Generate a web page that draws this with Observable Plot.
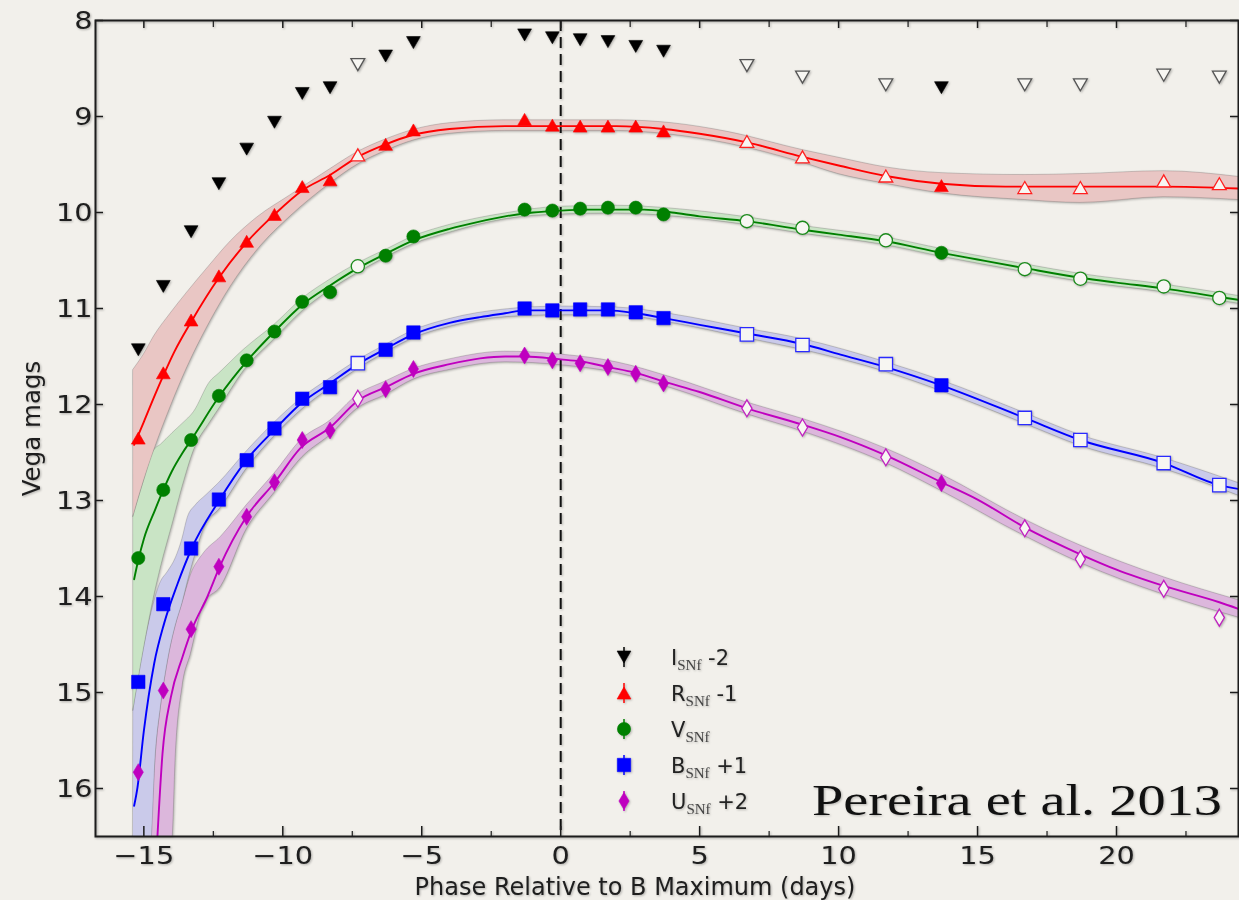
<!DOCTYPE html>
<html>
<head>
<meta charset="utf-8">
<script src="https://cdn.jsdelivr.net/npm/d3@7"></script>
<script src="https://cdn.jsdelivr.net/npm/@observablehq/plot@0.6"></script>
<style>
html, body { margin: 0; padding: 0; background: #f2f0eb; }
#wrap { position: relative; width: 1239px; height: 900px; overflow: hidden; }
#overlay { position: absolute; left: 0; top: 0; pointer-events: none; }
</style>
</head>
<body>
<div id="wrap"></div>
<script>
// ---------------- DATA ----------------
const phase = [-15.2, -14.3, -13.3, -12.3, -11.3, -10.3, -9.3, -8.3, -7.3, -6.3, -5.3, -1.3, -0.3, 0.7, 1.7, 2.7, 3.7, 6.7, 8.7, 11.7, 13.7, 16.7, 18.7, 21.7, 23.7];
const openFlag = [0, 0, 0, 0, 0, 0, 0, 0, 1, 0, 0, 0, 0, 0, 0, 0, 0, 1, 1, 1, 0, 1, 1, 1, 1];

const magI = [11.43, 10.77, 10.20, 9.70, 9.34, 9.06, 8.76, 8.70, 8.46, 8.37, 8.23, 8.15, 8.18, 8.20, 8.22, 8.27, 8.32, 8.47, 8.59, 8.67, 8.70, 8.67, 8.67, 8.57, 8.59];
const magR = [12.35, 11.67, 11.12, 10.66, 10.30, 10.02, 9.73, 9.66, 9.40, 9.29, 9.14, 9.03, 9.09, 9.10, 9.10, 9.10, 9.15, 9.26, 9.42, 9.62, 9.72, 9.74, 9.74, 9.67, 9.70];
const magV = [13.60, 12.89, 12.37, 11.91, 11.54, 11.24, 10.93, 10.83, 10.56, 10.45, 10.25, 9.97, 9.98, 9.96, 9.95, 9.95, 10.02, 10.09, 10.16, 10.29, 10.42, 10.59, 10.69, 10.77, 10.89];
const magB = [14.89, 14.08, 13.50, 12.99, 12.58, 12.25, 11.94, 11.82, 11.57, 11.43, 11.25, 11.00, 11.02, 11.01, 11.01, 11.04, 11.10, 11.27, 11.38, 11.58, 11.80, 12.14, 12.37, 12.61, 12.84];
const magU = [15.83, 14.98, 14.34, 13.69, 13.17, 12.81, 12.37, 12.27, 11.94, 11.84, 11.63, 11.49, 11.54, 11.57, 11.61, 11.68, 11.78, 12.04, 12.24, 12.55, 12.82, 13.29, 13.61, 13.92, 14.22];

// fitted light curves
const fitRX = [-15.35, -15.0, -14.6, -14.3, -13.9, -13.3, -12.3, -11.3, -10.3, -9.3, -8.3, -7.3, -6.3, -5.3, -4, -2, 0, 2, 3.7, 5, 6.7, 8.7, 10, 11.7, 13.7, 16, 18.7, 21.7, 24.4];
const fitRY = [12.42, 12.18, 11.90, 11.70, 11.45, 11.14, 10.68, 10.31, 10.02, 9.77, 9.61, 9.42, 9.29, 9.19, 9.13, 9.10, 9.10, 9.10, 9.13, 9.18, 9.27, 9.42, 9.51, 9.62, 9.70, 9.73, 9.73, 9.73, 9.75];

const fitVX = [-15.35, -15.2, -15.0, -14.6, -14.3, -14.0, -13.6, -13.3, -12.3, -11.3, -10.3, -9.3, -8.3, -7.3, -6.3, -5.3, -4, -3, -2, -1, 0, 1, 2, 3, 4, 5, 6.7, 8.7, 10, 11.7, 13.7, 15, 16.7, 18.7, 20, 21.7, 23.7, 24.4];
const fitVY = [13.82, 13.62, 13.40, 13.10, 12.89, 12.70, 12.50, 12.37, 11.92, 11.55, 11.24, 10.96, 10.76, 10.58, 10.43, 10.29, 10.17, 10.10, 10.04, 10.00, 9.98, 9.97, 9.97, 9.97, 10.00, 10.04, 10.09, 10.18, 10.23, 10.30, 10.42, 10.49, 10.58, 10.68, 10.73, 10.79, 10.88, 10.91];

const fitBX = [-15.35, -15.23, -15.0, -14.63, -14.27, -13.79, -13.28, -12.29, -11.31, -10.29, -9.35, -8.3, -7.3, -6.3, -5.3, -4, -2.9, -2, -1.3, 0, 1, 1.7, 2.7, 3.7, 5, 6.7, 8.7, 10.07, 11.7, 13.7, 16.7, 18.7, 21.7, 23.7, 24.4];
const fitBY = [16.18, 15.99, 15.40, 14.70, 14.28, 13.87, 13.50, 13.00, 12.58, 12.26, 11.99, 11.78, 11.58, 11.42, 11.27, 11.15, 11.09, 11.05, 11.02, 11.02, 11.02, 11.02, 11.05, 11.10, 11.17, 11.26, 11.37, 11.48, 11.61, 11.80, 12.14, 12.37, 12.61, 12.84, 12.88];

const fitUX = [-14.53, -14.33, -14.03, -13.61, -13.28, -12.71, -12.27, -11.31, -10.29, -9.35, -8.3, -7.3, -6.3, -5.3, -4, -2.9, -2, -1.3, 0, 0.7, 1.7, 2.7, 3.7, 5, 6.7, 8.7, 10.07, 11.7, 13.7, 15, 16.7, 18.7, 20, 21.7, 23.7, 24.4];
const fitUY = [16.60, 15.64, 15.05, 14.63, 14.35, 14.00, 13.69, 13.17, 12.81, 12.45, 12.24, 11.96, 11.82, 11.68, 11.58, 11.52, 11.50, 11.50, 11.53, 11.55, 11.61, 11.67, 11.76, 11.87, 12.04, 12.21, 12.34, 12.53, 12.81, 12.99, 13.28, 13.56, 13.72, 13.89, 14.06, 14.13];

// uncertainty bands (upper / lower edge)
const bandRX  = [-15.38, -15.0, -14.63, -14.03, -13.43, -12.71, -11.87, -10.91, -9.72, -8.3, -7.3, -6.3, -5.3, -4, -2, 0, 2, 4, 6, 8.7, 10, 11.7, 13.7, 16.7, 18.7, 21.7, 24.4];
const bandRLo = [11.64, 11.48, 11.29, 11.05, 10.83, 10.58, 10.30, 10.05, 9.82, 9.55, 9.37, 9.24, 9.14, 9.07, 9.04, 9.04, 9.04, 9.07, 9.16, 9.35, 9.43, 9.53, 9.59, 9.61, 9.60, 9.57, 9.63];
const bandRHi = [13.17, 12.80, 12.48, 12.02, 11.61, 11.19, 10.77, 10.39, 10.04, 9.70, 9.50, 9.36, 9.25, 9.18, 9.15, 9.15, 9.15, 9.19, 9.28, 9.48, 9.60, 9.70, 9.80, 9.87, 9.90, 9.84, 9.87];

const bandVX  = [-15.38, -15.0, -14.63, -14.39, -13.97, -13.6, -13.2, -12.6, -12.3, -11.4, -10.3, -9.3, -8.3, -7.3, -6.3, -5.3, -4, -2, 0, 2, 4, 6.7, 8.7, 11.7, 13.7, 16.7, 18.7, 21.7, 24.4];
const bandVLo = [13.17, 12.80, 12.48, 12.42, 12.30, 12.20, 12.08, 11.76, 11.68, 11.43, 11.17, 10.90, 10.70, 10.53, 10.39, 10.25, 10.13, 10.01, 9.94, 9.93, 9.96, 10.05, 10.14, 10.26, 10.38, 10.54, 10.64, 10.75, 10.87];
const bandVHi = [15.19, 14.55, 14.00, 13.70, 13.25, 12.85, 12.48, 12.18, 12.05, 11.65, 11.32, 11.03, 10.81, 10.63, 10.47, 10.33, 10.21, 10.07, 10.02, 10.01, 10.04, 10.13, 10.22, 10.34, 10.46, 10.62, 10.72, 10.83, 10.95];

const bandBX  = [-15.38, -15.1, -14.75, -14.57, -14.39, -14.15, -13.85, -13.61, -13.42, -13.13, -12.77, -12.3, -11.3, -10.3, -9.3, -8.3, -7.3, -6.3, -5.3, -4, -2, 0, 2, 4, 6.7, 8.7, 11.7, 13.7, 16.7, 18.7, 21.7, 24.4];
const bandBLo = [15.19, 14.70, 14.20, 14.00, 13.85, 13.75, 13.60, 13.40, 13.18, 13.05, 12.95, 12.82, 12.49, 12.19, 11.93, 11.73, 11.54, 11.38, 11.23, 11.11, 11.01, 10.98, 10.99, 11.06, 11.21, 11.32, 11.56, 11.75, 12.09, 12.32, 12.56, 12.82];
const bandBHi = [16.60, 16.60, 16.60, 15.64, 15.16, 14.70, 14.30, 14.07, 13.85, 13.55, 13.25, 13.10, 12.67, 12.33, 12.05, 11.83, 11.63, 11.46, 11.31, 11.19, 11.09, 11.07, 11.07, 11.15, 11.31, 11.43, 11.66, 11.86, 12.20, 12.43, 12.67, 12.95];

const bandUX  = [-14.75, -14.57, -14.39, -14.15, -13.98, -13.85, -13.61, -13.31, -12.84, -12.23, -11.3, -10.3, -9.3, -8.3, -7.3, -6.3, -5.3, -4, -2, 0, 2, 4, 6.7, 8.7, 11.7, 13.7, 16.7, 18.7, 21.7, 24.4];
const bandULo = [16.60, 15.64, 15.16, 14.70, 14.45, 14.30, 14.07, 13.78, 13.55, 13.38, 13.05, 12.72, 12.36, 12.17, 11.90, 11.76, 11.63, 11.53, 11.45, 11.48, 11.56, 11.72, 11.98, 12.15, 12.46, 12.73, 13.20, 13.47, 13.80, 14.04];
const bandUHi = [16.60, 16.60, 16.60, 16.60, 16.55, 15.64, 14.94, 14.60, 14.08, 13.90, 13.30, 12.92, 12.55, 12.32, 12.04, 11.90, 11.74, 11.64, 11.56, 11.59, 11.67, 11.83, 12.10, 12.28, 12.61, 12.90, 13.37, 13.65, 13.98, 14.22];

const bMaxPhase = [0];
const xMajor = [-15, -10, -5, 0, 5, 10, 15, 20];
const xMinor = [-12.5, -7.5, -2.5, 2.5, 7.5, 12.5, 17.5, 22.5];
const yTicks = [8, 9, 10, 11, 12, 13, 14, 15, 16];
const xLabel = ["Phase Relative to B Maximum (days)"];
const yLabel = ["Vega mags"];
const legendBand = ["I", "R", "V", "B", "U"];
const legendSub = ["SNf", "SNf", "SNf", "SNf", "SNf"];
const legendOffset = [" -2", " -1", "", " +1", " +2"];
const citation = "Pereira et al. 2013";

// ---------------- STYLE / SYMBOLS ----------------
const OPEN_FILL = "#f7f6f2";
const rOf = (size) => Math.sqrt(size / Math.PI);
const triDown = { draw(c, size) { const r = rOf(size); c.moveTo(0, r); c.lineTo(-1.15 * r, -r); c.lineTo(1.15 * r, -r); c.closePath(); } };
const triUp = { draw(c, size) { const r = rOf(size); c.moveTo(0, -r); c.lineTo(-1.15 * r, r); c.lineTo(1.15 * r, r); c.closePath(); } };
const square = { draw(c, size) { const r = rOf(size); c.moveTo(-r, -r); c.lineTo(r, -r); c.lineTo(r, r); c.lineTo(-r, r); c.closePath(); } };
const thinDiamond = { draw(c, size) { const r = rOf(size); c.moveTo(0, -r); c.lineTo(0.6 * r, 0); c.lineTo(0, r); c.lineTo(-0.6 * r, 0); c.closePath(); } };
const circle = { draw(c, size) { const r = rOf(size); c.moveTo(r, 0); c.arc(0, 0, r, 0, 2 * Math.PI); c.closePath(); } };

const series = [
  { mags: magI, color: "#000000", openStroke: "#555555", symbol: triDown, r: 6.0 },
  { mags: magR, color: "#ff0000", openStroke: "#ff2020", symbol: triUp, r: 6.0 },
  { mags: magV, color: "#008000", openStroke: "#1a8a1a", symbol: circle, r: 6.6 },
  { mags: magB, color: "#0000ff", openStroke: "#2a2aff", symbol: square, r: 6.7 },
  { mags: magU, color: "#bf00bf", openStroke: "#c020c0", symbol: thinDiamond, r: 8.5 }
];
const fits = [
  { xs: fitUX, ys: fitUY, color: "#bf00bf" },
  { xs: fitBX, ys: fitBY, color: "#0000ff" },
  { xs: fitVX, ys: fitVY, color: "#008000" },
  { xs: fitRX, ys: fitRY, color: "#ff0000" }
];
const bands = [
  { xs: bandUX, lo: bandULo, hi: bandUHi, fill: "#dcb7dc" },
  { xs: bandBX, lo: bandBLo, hi: bandBHi, fill: "#cacaea" },
  { xs: bandVX, lo: bandVLo, hi: bandVHi, fill: "#c9e4c5" },
  { xs: bandRX, lo: bandRLo, hi: bandRHi, fill: "#e9c6c4" }
];

const W = 1239, H = 900, mL = 95, mR = 1, mT = 20, mB = 64;
const plotW = W - mL - mR, plotH = H - mT - mB;
const AX = "#1c1c1c";
const minusFmt = (d) => (d < 0 ? "\u2212" + (-d) : String(d));
const intFmt = (d) => String(d);

const marks = [];
for (const b of bands) {
  const rows = b.xs.map((x, i) => ({ phase: x, lo: b.lo[i], hi: b.hi[i] }));
  marks.push(Plot.areaY(rows, { x: "phase", y1: "lo", y2: "hi", fill: b.fill, stroke: "rgba(70,70,70,0.28)", strokeWidth: 0.8, curve: "monotone-x", clip: true }));
}
marks.push(Plot.ruleX(bMaxPhase, { x: (d) => d, stroke: "#111", strokeWidth: 2, strokeDasharray: "11,6" }));
for (const f of fits) {
  const rows = f.xs.map((x, i) => ({ phase: x, mag: f.ys[i] }));
  marks.push(Plot.line(rows, { x: "phase", y: "mag", stroke: f.color, strokeWidth: 1.9, curve: "monotone-x", clip: true }));
}
for (const s of series) {
  const rows = phase.map((p, i) => ({ phase: p, mag: s.mags[i], open: openFlag[i] === 1 }));
  marks.push(Plot.dot(rows.filter((d) => !d.open), { x: "phase", y: "mag", symbol: s.symbol, r: s.r, fill: s.color, stroke: s.color, strokeWidth: 0.6 }));
  marks.push(Plot.dot(rows.filter((d) => d.open), { x: "phase", y: "mag", symbol: s.symbol, r: s.r, fill: OPEN_FILL, stroke: s.openStroke, strokeWidth: 1.3 }));
}
// inward ticks
marks.push(Plot.tickY(yTicks, { y: (d) => d, insetRight: plotW - 8, stroke: AX, strokeWidth: 1.5 }));
marks.push(Plot.tickY(yTicks, { y: (d) => d, insetLeft: plotW - 8, stroke: AX, strokeWidth: 1.5 }));
marks.push(Plot.tickX(xMajor, { x: (d) => d, insetTop: plotH - 10, stroke: AX, strokeWidth: 1.5 }));
marks.push(Plot.tickX(xMajor, { x: (d) => d, insetBottom: plotH - 8, stroke: AX, strokeWidth: 1.5 }));
marks.push(Plot.tickX(xMinor, { x: (d) => d, insetTop: plotH - 5, stroke: AX, strokeWidth: 1.2 }));
marks.push(Plot.tickX(xMinor, { x: (d) => d, insetBottom: plotH - 7, stroke: AX, strokeWidth: 1.2 }));
marks.push(Plot.frame({ stroke: AX, strokeWidth: 2 }));
marks.push(Plot.axisX(xMajor, { tickSize: 0, tickPadding: 10, tickFormat: minusFmt, label: null, fontSize: 25, fill: "#1e1e1e" }));
marks.push(Plot.axisY(yTicks, { tickSize: 0, tickPadding: 3, tickFormat: intFmt, label: null, fontSize: 25, fill: "#1e1e1e" }));
marks.push(Plot.text(yLabel, { frameAnchor: "left", text: (d) => d, rotate: -90, dx: -63, textAnchor: "middle", lineAnchor: "middle", fontSize: 24.5, fill: "#1e1e1e", ariaLabel: "y-label" }));
marks.push(Plot.text(xLabel, { frameAnchor: "bottom", text: (d) => d, dx: -32, dy: 51, textAnchor: "middle", lineAnchor: "middle", fontSize: 24, fill: "#1e1e1e", ariaLabel: "x-label" }));

const chart = Plot.plot({
  width: W, height: H,
  marginLeft: mL, marginRight: mR, marginTop: mT, marginBottom: mB,
  x: { domain: [-16.74, 24.39] },
  y: { domain: [8, 16.5], reverse: true },
  style: { background: "transparent", fontFamily: "DejaVu Sans", fontSize: "25px", color: "#1e1e1e", overflow: "visible" },
  marks
});
chart.style.filter = "drop-shadow(1px 1.5px 1px rgba(0,0,0,0.28))";
const wrap = document.getElementById("wrap");
wrap.appendChild(chart);

function stretch(nodes, k) {
  nodes.forEach((t) => {
    const L = t.getComputedTextLength();
    if (L > 0) { t.setAttribute("textLength", (L * k).toFixed(1)); t.setAttribute("lengthAdjust", "spacingAndGlyphs"); }
  });
}
stretch(chart.querySelectorAll('g[aria-label="x-axis tick label"] text'), 1.15);
stretch(chart.querySelectorAll('g[aria-label="y-axis tick label"] text'), 1.15);
stretch(chart.querySelectorAll('g[aria-label="x-label"] text'), 1.14);
stretch(chart.querySelectorAll('g[aria-label="y-label"] text'), 1.1);

// ---------------- legend + citation overlay ----------------
const ov = d3.select(wrap).append("svg").attr("id", "overlay").attr("width", W).attr("height", H)
  .style("filter", "drop-shadow(1px 1px 1px rgba(0,0,0,0.25))");
const legY0 = 657, legStep = 36, legMX = 624, legTX = 671;
series.forEach((s, i) => {
  const y = legY0 + i * legStep;
  const g = ov.append("g").attr("transform", `translate(${legMX},${y})`);
  g.append("line").attr("y1", -10).attr("y2", 10).attr("stroke", s.color).attr("stroke-width", 1.5);
  g.append("path").attr("d", d3.symbol().type(s.symbol).size(s.r * s.r * Math.PI)()).attr("fill", s.color).attr("stroke", s.color).attr("stroke-width", 0.6);
  const t = ov.append("text").attr("x", legTX).attr("y", y + 8).attr("fill", "#222").style("font-family", "DejaVu Sans").style("font-size", "21px");
  t.append("tspan").text(legendBand[i]);
  t.append("tspan").attr("dy", 5).style("font-family", "Liberation Serif").style("font-size", "15px").attr("fill", "#444").text(legendSub[i]);
  t.append("tspan").attr("dy", -5).text(legendOffset[i]);
});
ov.append("text").attr("x", 812).attr("y", 815).attr("fill", "#111")
  .style("font-family", "Liberation Serif").style("font-size", "45px")
  .attr("textLength", 410).attr("lengthAdjust", "spacingAndGlyphs").text(citation);
</script>
</body>
</html>
